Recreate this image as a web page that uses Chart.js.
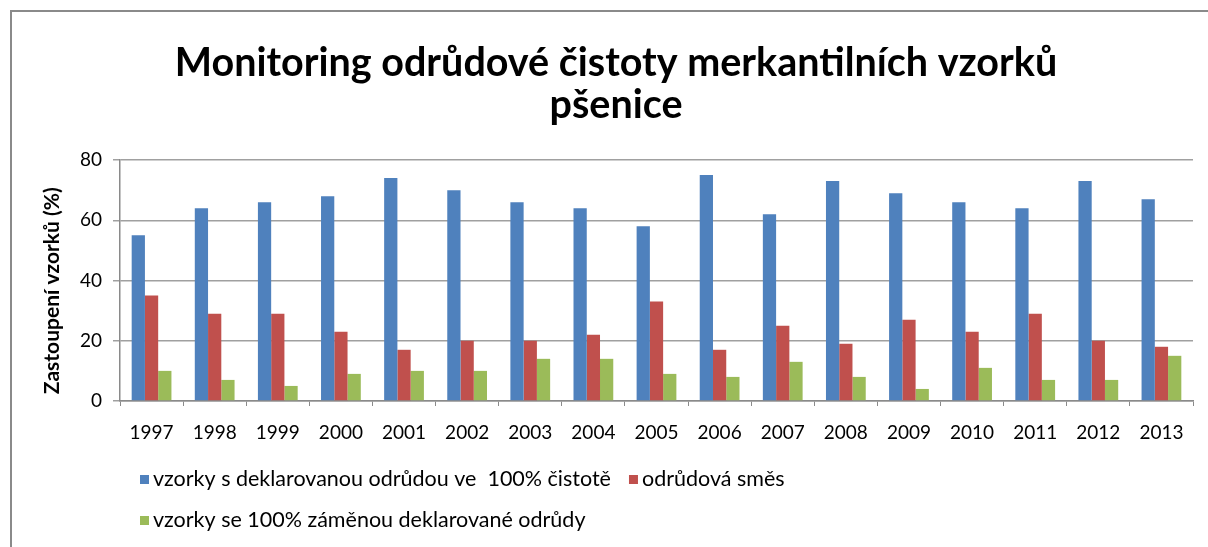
<!DOCTYPE html>
<html>
<head>
<meta charset="utf-8">
<script src="https://cdn.jsdelivr.net/npm/chart.js@4"></script>
<style>
  body { margin: 0; background: #fff; }
  #wrap { position: absolute; left: 0; top: 0; width: 1208px; height: 547px; }
  #frame { position: absolute; left: 10px; top: 10px; width: 1220px; height: 560px; border-left: 2px solid #8a8a8a; border-top: 2px solid #8a8a8a; }
</style>
</head>
<body>
<div id="frame"></div>
<div id="wrap"><canvas id="chart" width="1208" height="547"></canvas></div>
<script>
const years = ['1997', '1998', '1999', '2000', '2001', '2002', '2003', '2004', '2005', '2006', '2007', '2008', '2009', '2010', '2011', '2012', '2013'];
const pure = [55, 64, 66, 68, 74, 70, 66, 64, 58, 75, 62, 73, 69, 66, 64, 73, 67];
const mix = [35, 29, 29, 23, 17, 20, 20, 22, 33, 17, 25, 19, 27, 23, 29, 20, 18];
const swapped = [10, 7, 5, 9, 10, 10, 14, 14, 9, 8, 13, 8, 4, 11, 7, 7, 15];
const yTicks = [0, 20, 40, 60, 80];

const font = 'Lato, Carlito, Calibri, sans-serif';

// legend in two left-aligned rows like the original
const legendRows = {
  id: 'legendRows',
  afterDraw(chart) {
    const c = chart.ctx;
    const ds = chart.data.datasets;
    const rows = [[0, 1], [2]];
    c.save();
    c.font = '21.5px ' + font;
    c.textBaseline = 'middle';
    rows.forEach((row, r) => {
      let x = 140;
      const y = 479 + r * 41;
      row.forEach(i => {
        c.fillStyle = ds[i].backgroundColor;
        c.fillRect(x, y - 4, 9, 9);
        c.fillStyle = '#000';
        c.fillText(ds[i].label, x + 13, y);
        x += 13 + c.measureText(ds[i].label).width + 18;
      });
    });
    c.restore();
  }
};

new Chart(document.getElementById('chart'), {
  type: 'bar',
  data: {
    labels: years,
    datasets: [{
      label: 'vzorky s deklarovanou odrůdou ve  100% čistotě',
      data: pure,
      backgroundColor: '#4F81BD'
    }, {
      label: 'odrůdová směs',
      data: mix,
      backgroundColor: '#C0504D'
    }, {
      label: 'vzorky se 100% záměnou deklarované odrůdy',
      data: swapped,
      backgroundColor: '#9BBB59'
    }]
  },
  options: {
    responsive: false,
    animation: false,
    layout: { padding: { left: 39, right: 15, bottom: 100, top: 0 } },
    datasets: { bar: { categoryPercentage: 0.63, barPercentage: 1.0 } },
    plugins: {
      legend: { display: false },
      tooltip: { enabled: false },
      title: {
        display: true,
        text: ['Monitoring odrůdové čistoty merkantilních vzorků', 'pšenice'],
        color: '#000',
        font: { family: font, size: 39.5, weight: 'bold', lineHeight: 1.08 },
        padding: { top: 41.5, bottom: 33.2 }
      }
    },
    scales: {
      x: {
        grid: { offset: true, drawOnChartArea: false, tickLength: 5, color: '#8a8a8a' },
        border: { color: '#8a8a8a', width: 1.5 },
        ticks: { color: '#000', font: { family: font, size: 19 }, padding: 15, maxRotation: 0 },
        afterFit(scale) { scale.height = 46; }
      },
      y: {
        min: 0,
        max: 80,
        afterBuildTicks(scale) { scale.ticks = yTicks.map(v => ({ value: v })); },
        grid: { color: '#a0a0a0', lineWidth: 1.5, tickLength: 7 },
        border: { color: '#8a8a8a', width: 1.5 },
        ticks: { color: '#000', font: { family: font, size: 19 }, padding: 11 },
        title: {
          display: true,
          text: 'Zastoupení vzorků (%)    ',
          color: '#000',
          font: { family: font, size: 21, weight: 'bold' },
          padding: { top: 1, bottom: 0 }
        },
        afterFit(scale) { scale.width = 81; }
      }
    }
  },
  plugins: [legendRows]
});
</script>
</body>
</html>
